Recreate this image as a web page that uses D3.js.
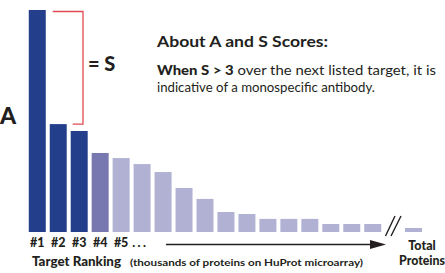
<!DOCTYPE html>
<html><head><meta charset="utf-8">
<script src="https://cdn.jsdelivr.net/npm/d3@7"></script>
<style>
html,body{margin:0;padding:0;background:#fff;}
svg{display:block;font-family:Lato,"Open Sans",sans-serif;}
</style></head>
<body>
<svg id="chart" width="445" height="273"></svg>
<script>
// Data (relative signal, % of top target)
const ranks = ["#1","#2","#3","#4","#5","#6","#7","#8","#9","#10","#11","#12","#13","#14","#15","#16","#17"];
const signal = [100, 48.6, 45.5, 35.6, 33.3, 30.6, 27.0, 19.8, 14.9, 9.0, 8.1, 5.9, 5.9, 5.9, 3.6, 3.6, 3.6];
const tiers = ["dark","dark","dark","mid","light","light","light","light","light","light","light","light","light","light","light","light","light"];
const totalValue = [1.8];
const rankLabels = ["#1","#2","#3","#4","#5"];

const colors = {dark:"#233e8b", mid:"#7778b0", light:"#b0b1d3"};
const ink = "#231f20";
const svg = d3.select("#chart");

const baseline = 232;
const x = d3.scaleBand().domain(ranks).range([25, 385]).paddingInner(0.19).paddingOuter(0.18);
const y = d3.scaleLinear().domain([0, 100]).range([baseline, 10]);

svg.selectAll("rect.bar").data(ranks).join("rect")
  .attr("class","bar")
  .attr("x", d => x(d))
  .attr("width", x.bandwidth())
  .attr("y", (d,i) => y(signal[i]))
  .attr("height", (d,i) => baseline - y(signal[i]))
  .attr("fill", (d,i) => colors[tiers[i]]);

// total bar
const xT = d3.scaleBand().domain(["Total"]).range([405, 422]);
svg.selectAll("rect.total").data(totalValue).join("rect")
  .attr("class","total")
  .attr("x", xT("Total")).attr("width", xT.bandwidth())
  .attr("y", d => y(d)).attr("height", d => baseline - y(d))
  .attr("fill", colors.light);

// axis break slashes
[[385.5,236,395,216],[391,236,401,216]].forEach(s=>{
  svg.append("line").attr("x1",s[0]).attr("y1",s[1]).attr("x2",s[2]).attr("y2",s[3])
    .attr("stroke",ink).attr("stroke-width",1.4);
});

// bracket S
const x1 = x("#1"), bw = x.bandwidth();
const sTop = y(signal[0]) + 1.5, sBot = y(signal[1]);
svg.append("path")
  .attr("d", `M${x1+bw+7},${sTop}H83V${sBot}H${x("#2")+bw+6}`)
  .attr("fill","none").attr("stroke","#e04a50").attr("stroke-width",1.3);

svg.append("text").attr("x",88).attr("y",71).attr("fill",ink)
  .attr("font-weight",900).attr("font-size",20).text("= S");
svg.append("text").attr("x",0).attr("y",124).attr("fill",ink)
  .attr("font-weight",900).attr("font-size",23).text("A");

// annotation
svg.append("text").attr("x",157).attr("y",47).attr("fill",ink)
  .attr("font-weight",700).attr("font-size",14.5)
  .attr("textLength",171).attr("lengthAdjust","spacingAndGlyphs")
  .text("About A and S Scores:");
const t1 = svg.append("text").attr("x",157).attr("y",75).attr("fill",ink).attr("font-size",13)
  .attr("textLength",279).attr("lengthAdjust","spacingAndGlyphs");
t1.append("tspan").attr("font-weight",900).text("When S > 3");
t1.append("tspan").text(" over the next listed target, it is");
svg.append("text").attr("x",157).attr("y",92).attr("fill",ink).attr("font-size",13)
  .attr("textLength",218).attr("lengthAdjust","spacingAndGlyphs")
  .text("indicative of a monospecific antibody.");

// rank labels
svg.selectAll("text.rank").data(rankLabels).join("text")
  .attr("class","rank")
  .attr("x", d => x(d) + bw/2).attr("y", 247)
  .attr("text-anchor","middle").attr("fill",ink)
  .attr("font-weight",900).attr("font-size",12.5)
  .text(d => d);
svg.append("text").attr("x", x("#5")+bw/2+11).attr("y",247).attr("fill",ink)
  .attr("font-weight",900).attr("font-size",12.5).attr("letter-spacing",2.5).text("...");

// arrow
svg.append("line").attr("x1",166).attr("y1",244.5).attr("x2",372).attr("y2",244.5)
  .attr("stroke",ink).attr("stroke-width",1.6);
svg.append("path").attr("d","M370,240L386,244.5L370,249Z").attr("fill",ink);

svg.append("text").attr("x",32).attr("y",266).attr("fill",ink)
  .attr("font-weight",900).attr("font-size",12.5)
  .attr("textLength",89).attr("lengthAdjust","spacingAndGlyphs").text("Target Ranking");
svg.append("text").attr("x",130).attr("y",266).attr("fill",ink)
  .attr("font-weight",700).attr("font-size",10)
  .attr("textLength",233).attr("lengthAdjust","spacingAndGlyphs")
  .text("(thousands of proteins on HuProt microarray)");

svg.append("text").attr("x",422).attr("y",250).attr("text-anchor","middle").attr("fill",ink)
  .attr("font-weight",900).attr("font-size",12.5).text("Total");
svg.append("text").attr("x",399).attr("y",265).attr("fill",ink)
  .attr("font-weight",900).attr("font-size",12.5)
  .attr("textLength",46).attr("lengthAdjust","spacingAndGlyphs").text("Proteins");
</script>
</body></html>
